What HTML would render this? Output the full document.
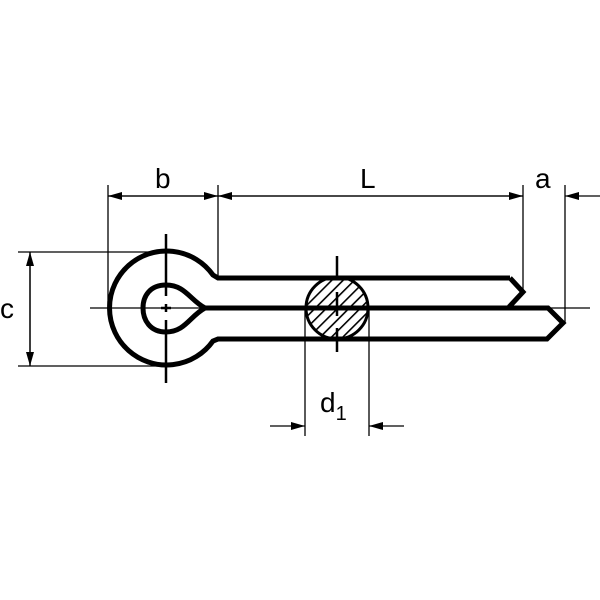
<!DOCTYPE html>
<html><head><style>body{margin:0;background:#fff}svg{display:block}</style></head><body>
<svg width="600" height="600" viewBox="0 0 600 600" xmlns="http://www.w3.org/2000/svg">
<defs>
<pattern id="h" width="8" height="8" patternUnits="userSpaceOnUse" patternTransform="rotate(45)">
<line x1="0" y1="0" x2="0" y2="8" stroke="#000" stroke-width="3.2"/></pattern>
<marker id="ar" markerWidth="14" markerHeight="8" refX="14" refY="4" orient="auto" markerUnits="userSpaceOnUse"><path d="M0,0 L14,4 L0,8z"/></marker>
</defs>
<rect width="600" height="600" fill="#fff"/>
<g stroke="#000" stroke-width="1.3" fill="none">
<line x1="108" y1="185" x2="108" y2="306"/>
<line x1="218" y1="185" x2="218" y2="278"/>
<line x1="523" y1="185" x2="523" y2="292"/>
<line x1="565" y1="185" x2="565" y2="323"/>
<line x1="18" y1="252" x2="160" y2="252"/>
<line x1="18" y1="366" x2="160" y2="366"/>
<line x1="305" y1="308" x2="305" y2="436"/>
<line x1="369" y1="308" x2="369" y2="436"/>
<line x1="218" y1="196" x2="108" y2="196" marker-end="url(#ar)"/>
<line x1="108" y1="196" x2="218" y2="196" marker-end="url(#ar)"/>
<line x1="218" y1="196" x2="523" y2="196" marker-end="url(#ar)"/>
<line x1="523" y1="196" x2="218" y2="196" marker-end="url(#ar)"/>
<line x1="600" y1="196" x2="565" y2="196" marker-end="url(#ar)"/>
<line x1="30" y1="252" x2="30" y2="366" marker-end="url(#ar)"/>
<line x1="30" y1="366" x2="30" y2="252" marker-end="url(#ar)"/>
<line x1="270" y1="426" x2="305" y2="426" marker-end="url(#ar)"/>
<line x1="404" y1="426" x2="369" y2="426" marker-end="url(#ar)"/>
<line x1="90" y1="308" x2="590" y2="308"/>
</g>
<g stroke="#000" stroke-width="2.5">
<line x1="166" y1="234" x2="166" y2="296"/>
<line x1="166" y1="320" x2="166" y2="383"/>
<line x1="161" y1="308" x2="171" y2="308"/>
<line x1="166" y1="304" x2="166" y2="312"/>
</g>
<circle cx="337" cy="308" r="31" fill="url(#h)" stroke="#000" stroke-width="3"/>
<line x1="337" y1="256" x2="337" y2="360" stroke="#000" stroke-width="2.5" stroke-dasharray="24,12"/>
<g stroke="#000" stroke-width="5" fill="none" stroke-linejoin="miter">
<path d="M510 278 L218 278 L213 275 A57 57 0 1 0 213 341 L218 339 L547 339 L563 323 L548 308 L205 308"/>
<path d="M510 278 L523 292 L509 307"/>
<path d="M205 308 C190 300 185 285 166 285 C150 285 143 296 143 308 C143 320 150 332 166 332 C185 332 190 316 205 308"/>
</g>
<g font-family="Liberation Sans, sans-serif" font-size="28" fill="#000">
<text x="155" y="188">b</text>
<text x="360" y="188">L</text>
<text x="535" y="188">a</text>
<text x="0" y="318">c</text>
<text x="320" y="412">d<tspan font-size="20" dy="8">1</tspan></text>
</g>
</svg>
</body></html>
